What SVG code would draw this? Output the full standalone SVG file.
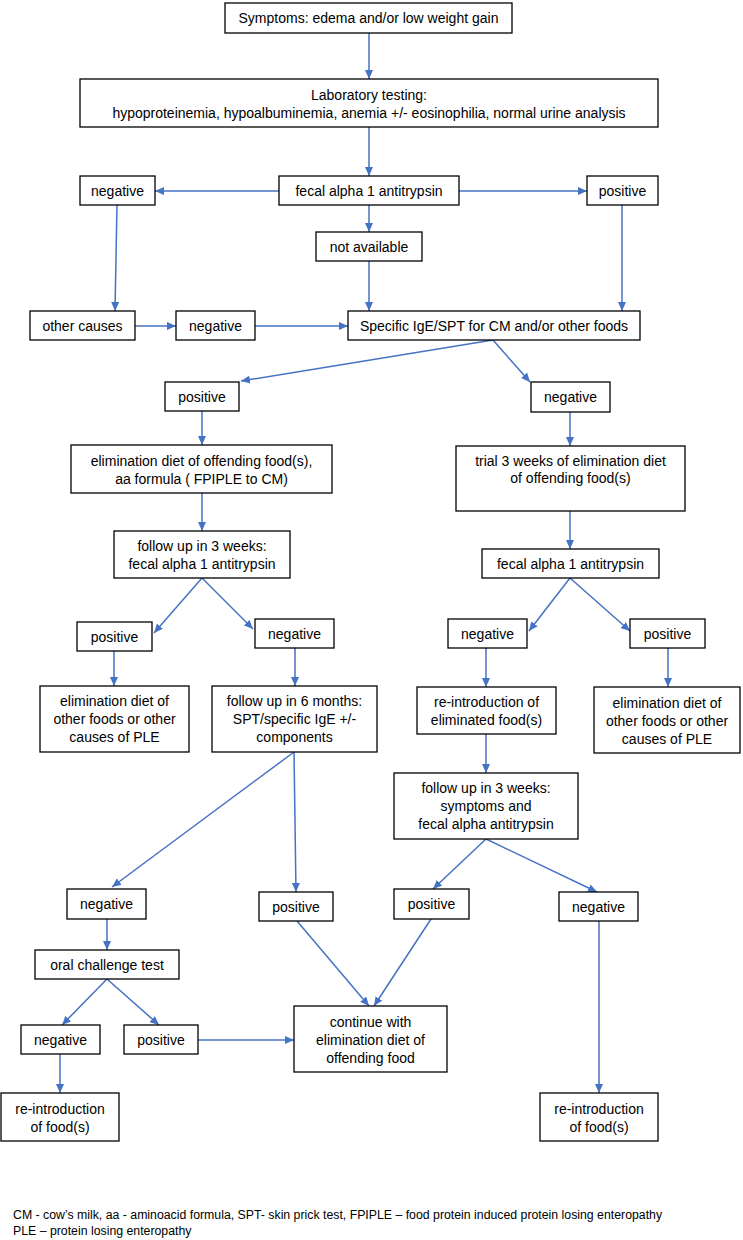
<svg xmlns="http://www.w3.org/2000/svg" width="743" height="1240" viewBox="0 0 743 1240">
<defs>
<marker id="ah" markerUnits="userSpaceOnUse" markerWidth="9" markerHeight="8" refX="9" refY="4" orient="auto" viewBox="0 0 9 8">
<path d="M0,0 L9,4 L0,8 z" fill="#4472C4"/>
</marker>
<style>
.b{fill:#fff;stroke:#000;stroke-width:1.3}
.t{font-family:"Liberation Sans",Arial,sans-serif;font-size:14px;fill:#000;text-anchor:middle}
.f{font-family:"Liberation Sans",Arial,sans-serif;font-size:12.3px;fill:#000}
#connectors line{stroke:#4472C4;stroke-width:1.5;marker-end:url(#ah)}
</style>
</defs>
<rect width="743" height="1240" fill="#fff"/>
<g id="connectors">
<line x1="369" y1="33" x2="369" y2="79"/>
<line x1="369" y1="127" x2="369" y2="176"/>
<line x1="279" y1="191" x2="155" y2="191"/>
<line x1="459" y1="191" x2="587" y2="191"/>
<line x1="369" y1="205" x2="369" y2="232"/>
<line x1="117" y1="205" x2="115" y2="311"/>
<line x1="369" y1="261" x2="369" y2="311"/>
<line x1="622" y1="205" x2="622" y2="311"/>
<line x1="135" y1="326" x2="176" y2="326"/>
<line x1="255" y1="326" x2="348" y2="326"/>
<line x1="493" y1="340" x2="241" y2="381"/>
<line x1="493" y1="340" x2="530" y2="382"/>
<line x1="202" y1="411" x2="202" y2="445"/>
<line x1="570" y1="412" x2="570" y2="446"/>
<line x1="202" y1="493" x2="202" y2="531"/>
<line x1="570" y1="511" x2="570" y2="549"/>
<line x1="202" y1="578" x2="154" y2="633"/>
<line x1="202" y1="578" x2="253" y2="629"/>
<line x1="570" y1="578" x2="529" y2="631"/>
<line x1="570" y1="578" x2="630" y2="631"/>
<line x1="114" y1="651" x2="114" y2="686"/>
<line x1="295" y1="648" x2="295" y2="686"/>
<line x1="486" y1="648" x2="486" y2="687"/>
<line x1="668" y1="648" x2="668" y2="687"/>
<line x1="486" y1="734" x2="486" y2="773"/>
<line x1="294" y1="752" x2="112" y2="887"/>
<line x1="294" y1="752" x2="296" y2="892"/>
<line x1="486" y1="839" x2="433" y2="889"/>
<line x1="486" y1="839" x2="597" y2="892"/>
<line x1="107" y1="919" x2="107" y2="950"/>
<line x1="297" y1="921" x2="369" y2="1006"/>
<line x1="431" y1="919" x2="374" y2="1006"/>
<line x1="107" y1="979" x2="62" y2="1025"/>
<line x1="107" y1="979" x2="159" y2="1025"/>
<line x1="198" y1="1040" x2="294" y2="1040"/>
<line x1="599" y1="921" x2="599" y2="1093"/>
<line x1="60" y1="1054" x2="60" y2="1093"/>
</g>
<g id="n1"><rect class="b" x="225" y="3" width="287" height="30"/><text class="t" x="368.5" y="23">Symptoms: edema and/or low weight gain</text></g>
<g id="n2"><rect class="b" x="80" y="79" width="578" height="48"/><text class="t" x="369" y="100">Laboratory testing:</text><text class="t" x="369" y="118">hypoproteinemia, hypoalbuminemia, anemia +/- eosinophilia, normal urine analysis</text></g>
<g id="n3"><rect class="b" x="279" y="176" width="180" height="29"/><text class="t" x="369" y="195.5">fecal alpha 1 antitrypsin</text></g>
<g id="n4"><rect class="b" x="80" y="176" width="75" height="29"/><text class="t" x="117.5" y="195.5">negative</text></g>
<g id="n5"><rect class="b" x="587" y="176" width="71" height="29"/><text class="t" x="622.5" y="195.5">positive</text></g>
<g id="n6"><rect class="b" x="316" y="232" width="106" height="29"/><text class="t" x="369" y="251.5">not available</text></g>
<g id="n7"><rect class="b" x="30" y="311" width="105" height="29"/><text class="t" x="82.5" y="330.5">other causes</text></g>
<g id="n8"><rect class="b" x="176" y="311" width="79" height="29"/><text class="t" x="215.5" y="330.5">negative</text></g>
<g id="n9"><rect class="b" x="348" y="311" width="292" height="29"/><text class="t" x="494" y="330.5">Specific IgE/SPT for CM and/or other foods</text></g>
<g id="n10"><rect class="b" x="165" y="382" width="74" height="29"/><text class="t" x="202" y="401.5">positive</text></g>
<g id="n11"><rect class="b" x="531" y="382" width="79" height="30"/><text class="t" x="570.5" y="402">negative</text></g>
<g id="n12"><rect class="b" x="71" y="445" width="261" height="48"/><text class="t" x="201.5" y="466">elimination diet of offending food(s),</text><text class="t" x="201.5" y="484">aa formula ( FPIPLE to CM)</text></g>
<g id="n13"><rect class="b" x="456" y="446" width="229" height="65"/><text class="t" x="570.5" y="466">trial 3 weeks of elimination diet</text><text class="t" x="570.5" y="483">of offending food(s)</text></g>
<g id="n14"><rect class="b" x="114" y="531" width="176" height="47"/><text class="t" x="202" y="551">follow up in 3 weeks:</text><text class="t" x="202" y="569">fecal alpha 1 antitrypsin</text></g>
<g id="n15"><rect class="b" x="482" y="549" width="177" height="29"/><text class="t" x="570.5" y="568.5">fecal alpha 1 antitrypsin</text></g>
<g id="n16"><rect class="b" x="77" y="622" width="75" height="29"/><text class="t" x="114.5" y="641.5">positive</text></g>
<g id="n17"><rect class="b" x="255" y="619" width="79" height="29"/><text class="t" x="294.5" y="638.5">negative</text></g>
<g id="n18"><rect class="b" x="448" y="619" width="79" height="29"/><text class="t" x="487.5" y="638.5">negative</text></g>
<g id="n19"><rect class="b" x="630" y="619" width="75" height="29"/><text class="t" x="667.5" y="638.5">positive</text></g>
<g id="n20"><rect class="b" x="40" y="686" width="149" height="66"/><text class="t" x="114.5" y="706">elimination diet of</text><text class="t" x="114.5" y="724">other foods or other</text><text class="t" x="114.5" y="742">causes of PLE</text></g>
<g id="n21"><rect class="b" x="212" y="686" width="165" height="66"/><text class="t" x="294.5" y="706">follow up in 6 months:</text><text class="t" x="294.5" y="724">SPT/specific IgE +/-</text><text class="t" x="294.5" y="742">components</text></g>
<g id="n22"><rect class="b" x="417" y="687" width="139" height="47"/><text class="t" x="486.5" y="707">re-introduction of</text><text class="t" x="486.5" y="725">eliminated food(s)</text></g>
<g id="n23"><rect class="b" x="594" y="687" width="146" height="66"/><text class="t" x="667" y="708">elimination diet of</text><text class="t" x="667" y="726">other foods or other</text><text class="t" x="667" y="744">causes of PLE</text></g>
<g id="n24"><rect class="b" x="394" y="773" width="184" height="66"/><text class="t" x="486" y="793">follow up in 3 weeks:</text><text class="t" x="486" y="811">symptoms and</text><text class="t" x="486" y="829">fecal alpha antitrypsin</text></g>
<g id="n25"><rect class="b" x="67" y="889" width="79" height="30"/><text class="t" x="106.5" y="909">negative</text></g>
<g id="n26"><rect class="b" x="259" y="892" width="74" height="29"/><text class="t" x="296" y="911.5">positive</text></g>
<g id="n27"><rect class="b" x="394" y="889" width="75" height="30"/><text class="t" x="431.5" y="909">positive</text></g>
<g id="n28"><rect class="b" x="559" y="892" width="79" height="29"/><text class="t" x="598.5" y="911.5">negative</text></g>
<g id="n29"><rect class="b" x="35" y="950" width="144" height="29"/><text class="t" x="107" y="969.5">oral challenge test</text></g>
<g id="n30"><rect class="b" x="21" y="1025" width="79" height="29"/><text class="t" x="60.5" y="1044.5">negative</text></g>
<g id="n31"><rect class="b" x="124" y="1025" width="74" height="29"/><text class="t" x="161" y="1044.5">positive</text></g>
<g id="n32"><rect class="b" x="294" y="1006" width="153" height="66"/><text class="t" x="370.5" y="1027">continue with</text><text class="t" x="370.5" y="1045">elimination diet of</text><text class="t" x="370.5" y="1063">offending food</text></g>
<g id="n33"><rect class="b" x="1" y="1093" width="118" height="48"/><text class="t" x="60" y="1114">re-introduction</text><text class="t" x="60" y="1132">of food(s)</text></g>
<g id="n34"><rect class="b" x="540" y="1093" width="118" height="48"/><text class="t" x="599" y="1114">re-introduction</text><text class="t" x="599" y="1132">of food(s)</text></g>
<g id="legend">
<text class="f" x="13" y="1219">CM - cow’s milk, aa - aminoacid formula, SPT- skin prick test, FPIPLE – food protein induced protein losing enteropathy</text>
<text class="f" x="13" y="1235">PLE – protein losing enteropathy</text>
</g>
</svg>
